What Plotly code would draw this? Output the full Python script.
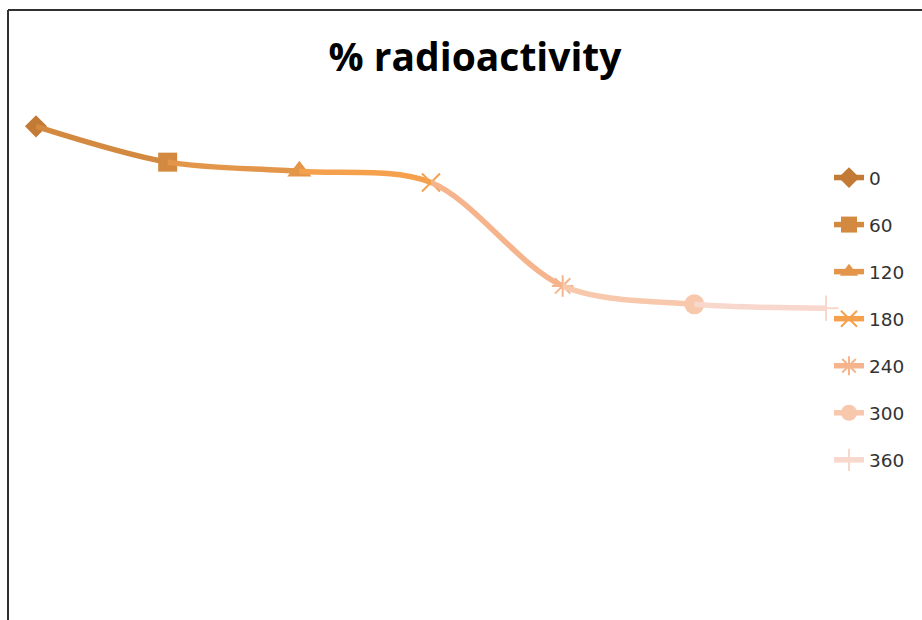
import plotly.graph_objects as go

# Sampling times (min) and measured % radioactivity
times = ["0", "60", "120", "180", "240", "300", "360"]
radioactivity = [100.0, 92.6, 90.7, 88.4, 67.0, 63.2, 62.4]

# Per-point styling (Excel-like "vary colours by point")
colors = ["#C27A34", "#D38A40", "#E3964A", "#F5A04C", "#F5B48C", "#F7C8AC", "#F8D8CC"]
symbols = ["diamond", "square", "triangle-up", "x-thin-open", "asterisk-open", "circle", "cross-thin-open"]
sizes = [17, 19, 21, 18, 18, 20, 18]

W, H = 922, 620
L, R, T, B = 36, 96, 78, 10
n = len(times)
PW, PH = W - L - R, H - T - B

fig = go.Figure()

# Smoothed connecting line: the whole series drawn as a spline on several
# x-axes, each covering one interval, so each interval gets its own colour.
for i in range(n - 1):
    fig.add_trace(go.Scatter(
        x=times, y=radioactivity, mode="lines",
        line=dict(color=colors[i + 1], width=5.5, shape="spline", smoothing=0.9),
        xaxis=f"x{i + 2}", yaxis="y", showlegend=False, hoverinfo="skip",
    ))

# Markers, one trace per time point (also builds the legend)
for i in range(n):
    open_sym = symbols[i].endswith("open")
    fig.add_trace(go.Scatter(
        x=[times[i]], y=[radioactivity[i]], mode="lines+markers",
        name=times[i], legendgroup=times[i],
        line=dict(color=colors[i], width=5.5),
        marker=dict(symbol=symbols[i], size=sizes[i], color=colors[i],
                    line=dict(color=colors[i], width=2 if open_sym else 0)),
        cliponaxis=False,
    ))

layout = dict(
    width=W, height=H,
    margin=dict(l=L, r=R, t=T, b=B),
    paper_bgcolor="white", plot_bgcolor="rgba(0,0,0,0)",
    title=dict(text="<b>% radioactivity</b>", x=475 / W, xref="container",
               xanchor="center", y=1 - 57 / H, yref="container", yanchor="middle",
               font=dict(family="Open Sans", size=39, color="#000000")),
    xaxis=dict(type="category", range=[0, n - 1], visible=False, showgrid=False),
    yaxis=dict(range=[0, 110], visible=False, showgrid=False),
    legend=dict(x=(829 - L) / PW, xanchor="left",
                y=1 - (159 - T) / PH, yanchor="top",
                font=dict(family="DejaVu Sans", size=18.5, color="#333333"),
                tracegroupgap=20, bgcolor="rgba(0,0,0,0)"),
    showlegend=True,
    shapes=[
        dict(type="line", xref="paper", yref="paper",
             x0=(8 - L) / PW, x1=(8 - L) / PW,
             y0=1 + (T - 10) / PH, y1=-0.2,
             line=dict(color="#303030", width=2)),
        dict(type="line", xref="paper", yref="paper",
             x0=(8 - L) / PW, x1=1.3,
             y0=1 + (T - 10) / PH, y1=1 + (T - 10) / PH,
             line=dict(color="#303030", width=2)),
    ],
)
for i in range(n - 1):
    layout[f"xaxis{i + 2}"] = dict(
        type="category", domain=[i / (n - 1), (i + 1) / (n - 1)],
        range=[i, i + 1], anchor="y", visible=False, showgrid=False,
    )
fig.update_layout(**layout)

fig.write_html("out.html")
